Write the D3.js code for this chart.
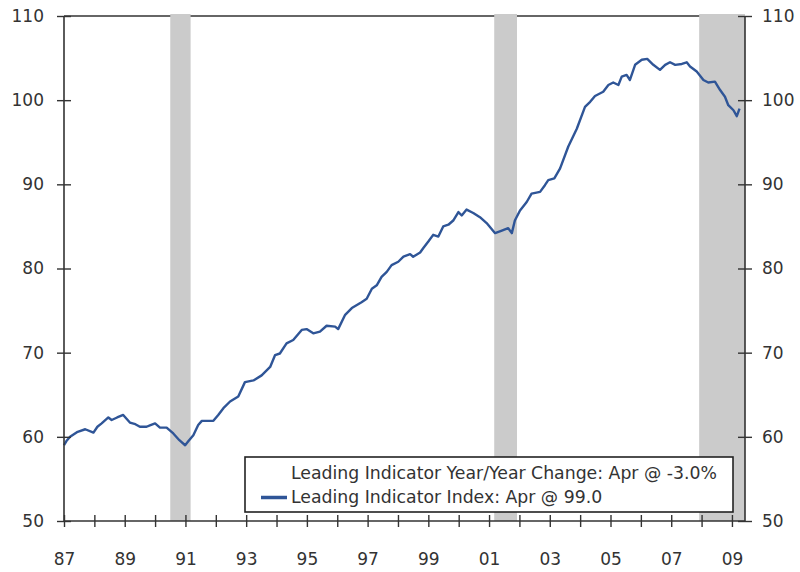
<!DOCTYPE html>
<html>
<head>
<meta charset="utf-8">
<script src="https://cdn.jsdelivr.net/npm/d3@7"></script>
<style>
  body { margin: 0; background: #fff; }
  svg { display: block; font-family: "DejaVu Sans", sans-serif; }
</style>
</head>
<body>
<div id="chart"></div>
<script>
// decimal year of each reading
var dates = [
  1987.00, 1987.08, 1987.20, 1987.45, 1987.70, 1987.97, 1988.10, 1988.24, 1988.46, 1988.57,
  1988.75, 1988.95, 1989.17, 1989.35, 1989.50, 1989.72, 1989.85, 1990.00, 1990.16, 1990.38,
  1990.60, 1990.80, 1990.99, 1991.10, 1991.26, 1991.42, 1991.54, 1991.75, 1991.92, 1992.08,
  1992.25, 1992.47, 1992.74, 1992.96, 1993.24, 1993.51, 1993.79, 1993.95, 1994.11, 1994.33,
  1994.55, 1994.83, 1994.99, 1995.21, 1995.43, 1995.65, 1995.93, 1996.03, 1996.26, 1996.48,
  1996.80, 1996.97, 1997.14, 1997.30, 1997.46, 1997.63, 1997.79, 1998.01, 1998.18, 1998.40,
  1998.50, 1998.73, 1998.83, 1999.00, 1999.16, 1999.33, 1999.49, 1999.66, 1999.82, 1999.99,
  2000.10, 2000.26, 2000.48, 2000.70, 2000.92, 2001.20, 2001.42, 2001.63, 2001.75, 2001.85,
  2002.02, 2002.24, 2002.40, 2002.68, 2002.84, 2002.95, 2003.15, 2003.34, 2003.61, 2003.89,
  2004.16, 2004.33, 2004.49, 2004.76, 2004.93, 2005.09, 2005.26, 2005.37, 2005.53, 2005.64,
  2005.81, 2006.03, 2006.21, 2006.41, 2006.63, 2006.80, 2006.96, 2007.13, 2007.35, 2007.51,
  2007.62, 2007.84, 2008.06, 2008.22, 2008.44, 2008.61, 2008.77, 2008.88, 2009.05, 2009.16,
  2009.25
];
// leading indicator index
var index_values = [
  59.0, 59.5, 60.0, 60.6, 60.9, 60.5, 61.2, 61.6, 62.3, 62.0,
  62.3, 62.6, 61.7, 61.5, 61.2, 61.2, 61.4, 61.6, 61.1, 61.1,
  60.4, 59.6, 59.0, 59.5, 60.2, 61.4, 61.9, 61.9, 61.9, 62.6,
  63.4, 64.2, 64.8, 66.5, 66.7, 67.3, 68.3, 69.7, 69.9, 71.1,
  71.5, 72.7, 72.8, 72.3, 72.5, 73.2, 73.1, 72.8, 74.5, 75.3,
  76.0, 76.4, 77.6, 78.0, 79.0, 79.6, 80.4, 80.8, 81.4, 81.7,
  81.4, 81.9, 82.4, 83.2, 84.0, 83.8, 85.0, 85.2, 85.7, 86.7,
  86.3, 87.0, 86.6, 86.1, 85.4, 84.2, 84.5, 84.8, 84.2, 85.7,
  86.9, 87.9, 88.9, 89.1, 89.9, 90.5, 90.7, 91.9, 94.5, 96.6,
  99.2, 99.8, 100.5, 101.0, 101.8, 102.1, 101.8, 102.8, 103.0, 102.4,
  104.2, 104.8, 104.9, 104.2, 103.6, 104.2, 104.5, 104.2, 104.3, 104.5,
  104.0, 103.4, 102.4, 102.1, 102.2, 101.2, 100.4, 99.4, 98.8, 98.1,
  99.0
];
// recessions: start / end in decimal years
var recession_start = [1990.50, 2001.17, 2007.92];
var recession_end   = [1991.17, 2001.92, 2009.43];

var y_ticks = [50, 60, 70, 80, 90, 100, 110];
var year_ticks = d3.range(1987, 2010);
var legend_labels = [
  "Leading Indicator Year/Year Change: Apr @ -3.0%",
  "Leading Indicator Index: Apr @ 99.0"
];

(function() {
  var width = 800, height = 572;
  var plotLeft = 64, plotRight = 745, plotTop = 16, plotBottom = 521;
  var axisColor = "#333";
  var lineColor = "#2f5597";

  var x = d3.scaleLinear().domain([1987, 2009.43]).range([plotLeft, plotRight]);
  var y = d3.scaleLinear().domain([50, 110]).range([plotBottom, plotTop]);

  var svg = d3.select("#chart").append("svg")
    .attr("width", width)
    .attr("height", height);

  svg.append("rect").attr("width", width).attr("height", height).attr("fill", "#fff");

  // top frame line
  svg.append("line")
    .attr("x1", plotLeft).attr("x2", plotRight)
    .attr("y1", y(110)).attr("y2", y(110))
    .attr("stroke", axisColor).attr("stroke-width", 1.6);

  // recession bars
  svg.selectAll(".recession")
    .data(recession_start)
    .enter()
    .append("rect")
    .attr("class", "recession")
    .attr("x", function(d) { return x(d); })
    .attr("width", function(d, i) { return x(recession_end[i]) - x(d); })
    .attr("y", plotTop - 2)
    .attr("height", plotBottom - plotTop + 2)
    .attr("fill", "#cbcbcb");

  // index line
  var points = dates.map(function(d, i) { return [d, index_values[i]]; });
  var line = d3.line()
    .x(function(d) { return x(d[0]); })
    .y(function(d) { return y(d[1]); });

  svg.append("path")
    .datum(points)
    .attr("d", line)
    .attr("fill", "none")
    .attr("stroke", lineColor)
    .attr("stroke-width", 2.4)
    .attr("stroke-linejoin", "round");

  // left axis
  var yAxisL = d3.axisLeft(y).tickValues(y_ticks).tickSize(7).tickPadding(13);
  var gl = svg.append("g").attr("transform", "translate(" + plotLeft + ",0)").call(yAxisL);
  // right axis
  var yAxisR = d3.axisRight(y).tickValues(y_ticks).tickSize(7).tickPadding(10);
  var gr = svg.append("g").attr("transform", "translate(" + plotRight + ",0)").call(yAxisR);
  // bottom axis
  var xAxis = d3.axisBottom(x).tickValues(year_ticks).tickSize(6).tickPadding(26)
    .tickFormat(function(d) { return (d % 2 == 1) ? d3.format("02d")(d % 100) : ""; });
  var gb = svg.append("g").attr("transform", "translate(0," + plotBottom + ")").call(xAxis);

  [gl, gr, gb].forEach(function(g) {
    g.select(".domain").attr("stroke", axisColor).attr("stroke-width", 1.6);
    g.selectAll(".tick line").attr("stroke", axisColor).attr("stroke-width", 1.4);
    g.selectAll("text")
      .attr("fill", "#333")
      .style("font-size", "17px")
      .style("font-family", "'DejaVu Sans', sans-serif");
  });
  // ticks cross the axis lines
  gl.selectAll(".tick line").attr("x1", -7).attr("x2", 7);
  gr.selectAll(".tick line").attr("x1", -7).attr("x2", 7);
  gb.selectAll(".tick line").attr("y1", -6).attr("y2", 6);
  gl.select(".domain").attr("d", "M0," + plotTop + "V" + plotBottom);
  gr.select(".domain").attr("d", "M0," + plotTop + "V" + plotBottom);
  gb.select(".domain").attr("d", "M" + plotLeft + ",0H" + plotRight);

  // legend
  var legend = svg.append("g").attr("class", "legend");
  legend.append("rect")
    .attr("x", 245).attr("y", 457)
    .attr("width", 488).attr("height", 55)
    .attr("fill", "#fff")
    .attr("stroke", "#222")
    .attr("stroke-width", 1.6);

  legend.selectAll(".legend-text")
    .data(legend_labels)
    .enter()
    .append("text")
    .attr("class", "legend-text")
    .attr("x", 291)
    .attr("y", function(d, i) { return 479 + i * 24; })
    .attr("fill", "#333")
    .style("font-size", "17.3px")
    .text(function(d) { return d; });

  legend.append("line")
    .attr("x1", 261).attr("x2", 287)
    .attr("y1", 497.5).attr("y2", 497.5)
    .attr("stroke", lineColor)
    .attr("stroke-width", 3.5);
})();
</script>
</body>
</html>
